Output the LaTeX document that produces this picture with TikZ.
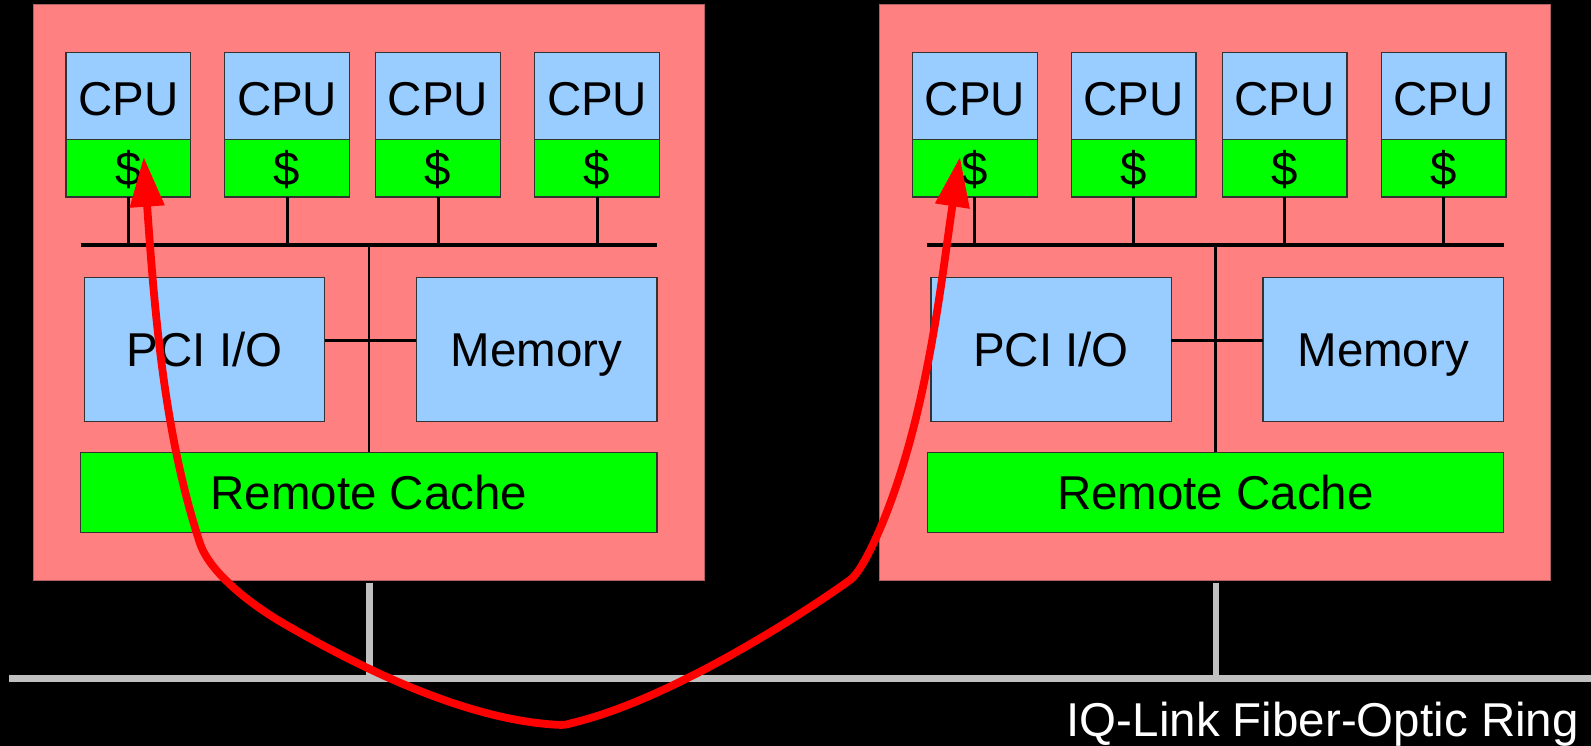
\documentclass[tikz,border=0pt]{standalone}
\usepackage{fontspec}
\setmainfont{Liberation Sans}
\usetikzlibrary{arrows.meta}
\definecolor{boardpink}{HTML}{FF8080}
\definecolor{unitblue}{HTML}{99CCFF}
\definecolor{cachegreen}{HTML}{00FF00}
\definecolor{ringgray}{HTML}{C0C0C0}
\definecolor{boxedge}{HTML}{333333}
\definecolor{boardedge}{HTML}{B06060}
\tikzset{
  board/.style={fill=boardpink, draw=boardedge, line width=1pt, inner sep=0pt, outer sep=0pt, anchor=north west},
  unit/.style={fill=unitblue, draw=boxedge, line width=1.2pt, inner sep=0pt, outer sep=0pt,
    anchor=north west, font=\fontsize{47.5}{50}\selectfont, text height=34pt, text depth=0pt},
  cpubox/.style={unit, text height=38.5pt},
  cache/.style={unit, fill=cachegreen},
  bus/.style={line width=3.5pt, black},
  wire/.style={line width=2.8pt, black},
  ringline/.style={line width=7pt, ringgray},
  ringdrop/.style={line width=6.5pt, ringgray},
  coherence/.style={line width=7.8pt, red, line join=round,
    {Triangle[length=50pt,width=33pt]}-{Triangle[length=50pt,width=33pt]}},
}
\begin{document}
\begin{tikzpicture}[x=1pt,y=-1pt]
  % page
  \fill[black] (0,0) rectangle (1591,746);
  \useasboundingbox (0,0) rectangle (1591,746);

  % two identical nodes of the machine
  \foreach \s/\dx in {L/0, R/846.5}{
    \begin{scope}[xshift=\dx pt]
      \node[board, minimum width=670.7pt, minimum height=575.3pt] (brd\s) at (33.3,5) {};
      \foreach \i/\x in {1/66, 2/224.8, 3/375.75, 4/534.8}{
        \node[cpubox, minimum width=124.7pt, minimum height=86.6pt] (cpu\s\i) at (\x,52.7) {CPU};
        \node[cache, minimum width=124.7pt, minimum height=57.7pt] (c\s\i) at (cpu\s\i.south west) {\$};
      }
      \coordinate (busw\s) at (80.9,245);
      \coordinate (buse\s) at (657,245);
      \node[unit, minimum width=240.1pt, minimum height=144pt] (pci\s) at (84.5,277.7) {PCI I/O};
      \node[unit, minimum width=240.6pt, minimum height=144pt] (mem\s) at (416.4,277.7) {Memory};
      \node[cache, minimum width=576.2pt, minimum height=80.4pt] (rc\s) at (80.8,452.3) {Remote Cache};
      % local bus
      \draw[bus] (busw\s) -- (buse\s);
      \foreach \i in {1,2,3,4}{
        \draw[wire] (c\s\i.south) -- (c\s\i.south |- busw\s);
      }
      \draw[wire] ([yshift=9pt]pci\s.east) -- ([yshift=9pt]mem\s.west);
      \draw[wire] (rc\s.north) -- (rc\s.north |- busw\s);
    \end{scope}
  }

  % fiber-optic ring
  \coordinate (ringw) at (9.2,678.7);
  \coordinate (ringe) at (1591,678.7);
  \foreach \s in {L,R}{
    \draw[ringdrop] ([xshift=1pt,yshift=-2.4pt]brd\s.south) -- ([xshift=1pt]brd\s.south |- ringw);
  }
  \draw[ringline] (ringw) -- (ringe);
  \node[font=\fontsize{47.5}{50}\selectfont, text=white, inner sep=0pt, anchor=base east]
    (ringlabel) at (1579,736.7) {IQ-Link Fiber-Optic Ring};

  % cache line travelling between the two processor caches
  \coordinate (hitL) at (143.7,156.7);
  \coordinate (hitR) at (960,156.7);
  \draw[coherence] (hitL)
    .. controls (154.2,306.7) and (163.7,433.3) .. (200,543.3)
    .. controls (209.2,571.3) and (248.3,603) .. (283.3,623.3)
    .. controls (373.3,675.5) and (473.3,720.5) .. (558,724.8)
    .. controls (563,725.2) and (567,724.6) .. (572,723)
    .. controls (673.3,699) and (810,609) .. (850,580)
    .. controls (862,571.4) and (878.8,533.3) .. (888.3,508.3)
    .. controls (930.1,398.3) and (942.95,266.7) .. (hitR);
\end{tikzpicture}
\end{document}
